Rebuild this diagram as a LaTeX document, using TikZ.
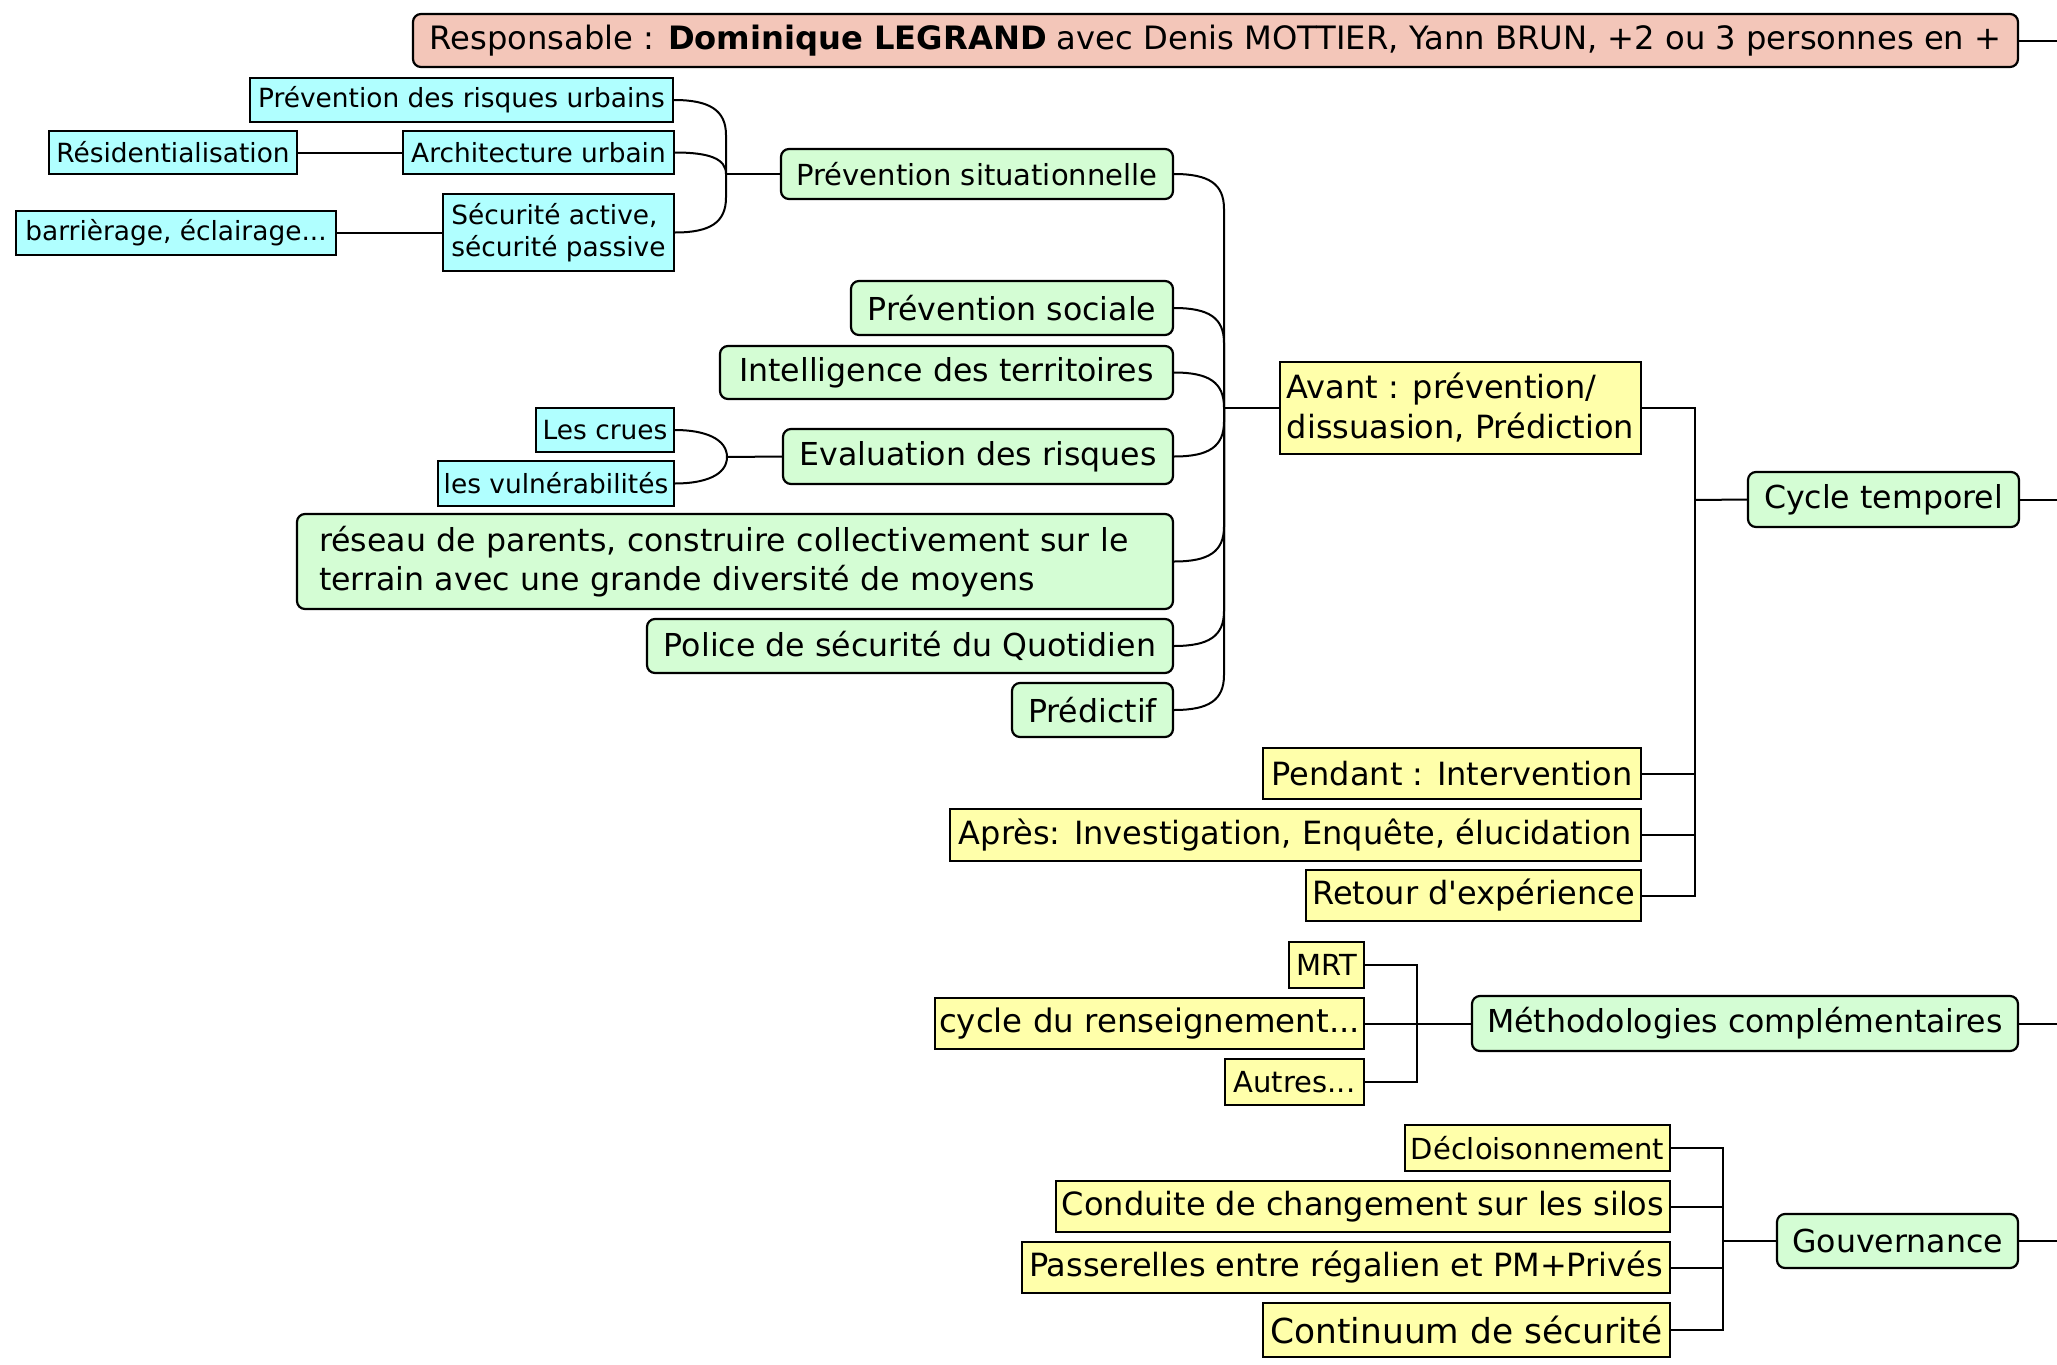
\documentclass[tikz,border=0pt]{standalone}
\usepackage{fontspec}
\setmainfont{DejaVu Sans}
\usetikzlibrary{calc}
\definecolor{cgreen}{HTML}{D4FDD4}
\definecolor{ccyan}{HTML}{B0FFFF}
\definecolor{cyel}{HTML}{FFFFAA}
\definecolor{cpink}{HTML}{F3C6B9}
\begin{document}
\begin{tikzpicture}[x=0.5pt,y=-0.5pt,
  sz/.style 2 args={minimum width=#1*0.5pt,minimum height=#2*0.5pt},
  base/.style={draw=black,line width=1.1pt,inner xsep=2pt,inner ysep=1pt},
  gbox/.style={base,fill=cgreen,rounded corners=4pt,font=\fontsize{15.8}{19.8}\selectfont},
  bbox/.style={base,fill=ccyan,font=\fontsize{13.2}{16}\selectfont},
  ybox/.style={base,fill=cyel,font=\fontsize{16}{20}\selectfont},
  tbox/.style={base,fill=cpink,rounded corners=4pt,font=\fontsize{16.1}{19.8}\selectfont},
  conn/.style={line width=1pt,black}]
\useasboundingbox (0,0) rectangle (2057,1365);

% title
\node[tbox,sz={1605}{53}] (title) at (1215.5,40.5) {Responsable : \textbf{Dominique LEGRAND} avec Denis MOTTIER, Yann BRUN, +2 ou 3 personnes en +};

% blue nodes
\node[bbox,sz={423}{44}] (pru) at (461.5,100) {Prévention des risques urbains};
\node[bbox,sz={248}{43}] (res) at (173,152.5) {Résidentialisation};
\node[bbox,sz={271}{43}] (arch) at (538.5,152.5) {Architecture urbain};
\node[bbox,sz={320}{44}] (bar) at (176,233) {barrièrage, éclairage...};
\node[bbox,sz={231}{77},align=left] (sec) at (558.5,232.5) {Sécurité active,\\sécurité passive};
\node[bbox,sz={138}{44}] (crues) at (605,430) {Les crues};
\node[bbox,sz={236}{45}] (vuln) at (556,483.5) {les vulnérabilités};

% green nodes
\node[gbox,sz={392}{50},font=\fontsize{14.5}{18}\selectfont] (ps) at (977,174) {Prévention situationnelle};
\node[gbox,sz={322}{54}] (psoc) at (1012,308) {Prévention sociale};
\node[gbox,sz={453}{53}] (intel) at (946.5,372.5) {Intelligence des territoires};
\node[gbox,sz={390}{55}] (eval) at (978,456.5) {Evaluation des risques};
\node[gbox,sz={876}{95},align=left,text width=416pt,inner xsep=11pt] (reseau) at (735,561.5) {réseau de parents, construire collectivement sur le\\terrain avec une grande diversité de moyens};
\node[gbox,sz={526}{54}] (police) at (910,646) {Police de sécurité du Quotidien};
\node[gbox,sz={161}{54}] (pred) at (1092.5,710) {Prédictif};
\node[gbox,sz={271}{55}] (cycle) at (1883.5,499.5) {Cycle temporel};
\node[gbox,sz={546}{55}] (meth) at (1745,1023.5) {Méthodologies complémentaires};
\node[gbox,sz={241}{54}] (gouv) at (1897.5,1241) {Gouvernance};

% yellow nodes
\node[ybox,sz={361}{92},align=left] (avant) at (1460.5,408) {Avant : prévention/\\dissuasion, Prédiction};
\node[ybox,sz={378}{51}] (pendant) at (1452,773.5) {Pendant : Intervention};
\node[ybox,sz={691}{52}] (apres) at (1295.5,835) {Après: Investigation, Enquête, élucidation};
\node[ybox,sz={335}{51}] (retour) at (1473.5,895.5) {Retour d\textquotesingle expérience};
\node[ybox,sz={75}{46},font=\fontsize{14.5}{18}\selectfont] (mrt) at (1326.5,965) {MRT};
\node[ybox,sz={429}{51},font=\fontsize{16.2}{20}\selectfont] (cyr) at (1149.5,1023.5) {cycle du renseignement...};
\node[ybox,sz={139}{46},font=\fontsize{14.5}{18}\selectfont] (autres) at (1294.5,1082) {Autres...};
\node[ybox,sz={265}{46},font=\fontsize{14.5}{18}\selectfont] (decl) at (1537.5,1148) {Décloisonnement};
\node[ybox,sz={614}{51}] (cond) at (1363,1206.5) {Conduite de changement sur les silos};
\node[ybox,sz={648}{51}] (pass) at (1346,1267.5) {Passerelles entre régalien et PM+Privés};
\node[ybox,sz={407}{54},font=\fontsize{17.2}{21}\selectfont] (cont) at (1466.5,1330) {Continuum de sécurité};

% junctions
\coordinate (jA) at (726,174);
\coordinate (jB) at (727,457);
\coordinate (jC) at (1224,408);
\coordinate (jD) at (1695,500);
\coordinate (jE) at (1417,1023.5);
\coordinate (jF) at (1723,1241);
\coordinate (edge) at (2080,0);

% straight links
\draw[conn] (res.east) -- (res.east -| arch.west);
\draw[conn] (bar.east) -- (bar.east -| sec.west);

% bracket A
\draw[conn] (pru.east) .. controls +(35,0) and +(0,-25) .. ($(pru.east -| jA)+(0,35)$) -- (jA);
\draw[conn] (arch.east) .. controls +(35,0) and +(0,-15) .. (jA);
\draw[conn] (sec.east) .. controls +(35,0) and +(0,25) .. ($(sec.east -| jA)+(0,-35)$) -- (jA);
\draw[conn] (jA) -- (ps.west);

% bracket B
\draw[conn] (crues.east) .. controls +(30,0) and +(0,-18) .. (jB);
\draw[conn] (vuln.east) .. controls +(30,0) and +(0,18) .. (jB);
\draw[conn] (jB) -- (eval.west);

% bracket C
\draw[conn] (ps.east) .. controls +(35,0) and +(0,-25) .. ($(ps.east -| jC)+(0,35)$) -- (jC);
\draw[conn] (psoc.east) .. controls +(35,0) and +(0,-25) .. ($(psoc.east -| jC)+(0,35)$) -- (jC);
\draw[conn] (intel.east) .. controls +(35,0) and +(0,-25) .. ($(intel.east -| jC)+(0,35)$) -- (jC);
\draw[conn] (eval.east) .. controls +(35,0) and +(0,25) .. ($(eval.east -| jC)+(0,-35)$) -- (jC);
\draw[conn] (reseau.east) .. controls +(35,0) and +(0,25) .. ($(reseau.east -| jC)+(0,-35)$) -- (jC);
\draw[conn] (police.east) .. controls +(35,0) and +(0,25) .. ($(police.east -| jC)+(0,-35)$) -- (jC);
\draw[conn] (pred.east) .. controls +(35,0) and +(0,25) .. ($(pred.east -| jC)+(0,-35)$) -- (jC);
\draw[conn] (jC) -- (avant.west);

% bracket D
\draw[conn] (avant.east) -| (jD);
\draw[conn] (pendant.east) -| (jD);
\draw[conn] (apres.east) -| (jD);
\draw[conn] (retour.east) -| (jD);
\draw[conn] (jD) -- (cycle.west);

% bracket E
\draw[conn] (mrt.east) -| (jE);
\draw[conn] (cyr.east) -- (jE);
\draw[conn] (autres.east) -| (jE);
\draw[conn] (jE) -- (meth.west);

% bracket F
\draw[conn] (decl.east) -| (jF);
\draw[conn] (cond.east) -| (jF);
\draw[conn] (pass.east) -| (jF);
\draw[conn] (cont.east) -| (jF);
\draw[conn] (jF) -- (gouv.west);

% links to the right edge
\draw[conn] (title.east) -- (title.east -| edge);
\draw[conn] (cycle.east) -- (cycle.east -| edge);
\draw[conn] (meth.east) -- (meth.east -| edge);
\draw[conn] (gouv.east) -- (gouv.east -| edge);
\end{tikzpicture}
\end{document}
